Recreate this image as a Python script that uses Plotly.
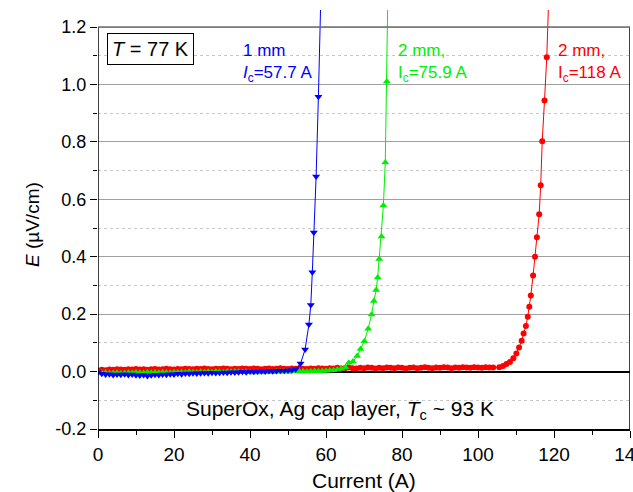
import plotly.graph_objects as go

# ---------------- data ----------------
blue_I = [0, 1, 2, 3, 4, 5, 6, 7, 8, 9, 10, 11, 12, 13, 14, 15, 16, 17, 18, 19,
          20, 21, 22, 23, 24, 25, 26, 27, 28, 29, 30, 31, 32, 33, 34, 35, 36, 37, 38, 39,
          40, 41, 42, 43, 44, 45, 46, 47, 48, 49, 50, 51, 52,
          53.3, 54.5, 55.5, 56.0, 56.4, 56.8, 57.4, 58.0, 59.0]
blue_E = [-0.002, -0.008, -0.010, -0.009, -0.012, -0.010, -0.011, -0.009, -0.012, -0.010,
          -0.013, -0.014, -0.012, -0.015, -0.013, -0.011, -0.012, -0.010, -0.011, -0.009,
          -0.010, -0.008, -0.009, -0.007, -0.008, -0.006, -0.007, -0.006, -0.005, -0.006,
          -0.004, -0.005, -0.004, -0.003, -0.004, -0.002, -0.003, -0.002, -0.001, -0.002,
          0.000, -0.001, 0.000, 0.001, 0.000, 0.002, 0.001, 0.002, 0.003, 0.003,
          0.004, 0.005, 0.008,
          0.028, 0.077, 0.164, 0.232, 0.346, 0.484, 0.679, 0.957, 1.5]

green_I = [0, 1, 2, 3, 4, 5, 6, 7, 8, 9, 10, 11, 12, 13, 14, 15, 16, 17, 18, 19,
           20, 21, 22, 23, 24, 25, 26, 27, 28, 29, 30, 31, 32, 33, 34, 35, 36, 37, 38, 39,
           40, 41, 42, 43, 44, 45, 46, 47, 48, 49, 50, 51, 52, 53, 54, 55, 56, 57, 58, 59,
           60, 61, 62, 63, 64,
           65.1, 66.0, 67.1, 68.2, 69.1, 70.1, 71.1, 72.0, 72.6, 73.2, 73.6, 74.0, 74.6,
           75.1, 75.6, 76.0, 76.5]
green_E = [-0.003, -0.005, -0.004, -0.006, -0.005, -0.004, -0.006, -0.005, -0.004, -0.005,
           -0.003, -0.004, -0.005, -0.003, -0.004, -0.003, -0.004, -0.002, -0.003, -0.004,
           -0.002, -0.003, -0.002, -0.003, -0.001, -0.002, -0.003, -0.001, -0.002, -0.001,
           -0.002, 0.000, -0.001, -0.002, 0.000, -0.001, 0.000, -0.001, -0.002, -0.001,
           -0.002, -0.003, -0.002, -0.003, -0.002, -0.001, -0.002, 0.000, -0.001, 0.000,
           -0.001, 0.000, 0.001, 0.000, 0.001, 0.000, 0.001, 0.002, 0.001, 0.002,
           0.003, 0.004, 0.005, 0.007, 0.010,
           0.015, 0.031, 0.035, 0.054, 0.079, 0.106, 0.149, 0.199, 0.246, 0.284, 0.328,
           0.392, 0.470, 0.578, 0.728, 1.010, 1.5]

red_I = [0, 1, 2, 3, 4, 5, 6, 7, 8, 9, 10, 11, 12, 13, 14, 15, 16, 17, 18, 19,
         20, 21, 22, 23, 24, 25, 26, 27, 28, 29, 30, 31, 32, 33, 34, 35, 36, 37, 38, 39,
         40, 41, 42, 43, 44, 45, 46, 47, 48, 49, 50, 51, 52, 53, 54, 55, 56, 57, 58, 59,
         60, 61, 62, 63, 64, 65, 66, 67, 68, 69, 70, 71, 72, 73, 74, 75, 76, 77, 78, 79,
         80, 81, 82, 83, 84, 85, 86, 87, 88, 89, 90, 91, 92, 93, 94, 95, 96, 97, 98, 99,
         100, 101, 102, 103, 104,
         105.6, 106.6, 107.5, 108.4, 109.3, 110.1, 110.8, 111.5, 112.0, 112.6, 113.1,
         113.5, 113.9, 114.5, 115.0, 115.5, 116.1, 116.5, 116.9, 117.5, 118.1, 119.1]
red_E = [0.004, 0.006, 0.005, 0.007, 0.006, 0.008, 0.007, 0.006, 0.008, 0.007,
         0.009, 0.007, 0.008, 0.006, 0.008, 0.009, 0.007, 0.008, 0.010, 0.008,
         0.007, 0.009, 0.008, 0.010, 0.009, 0.008, 0.010, 0.009, 0.011, 0.009,
         0.008, 0.010, 0.009, 0.011, 0.010, 0.008, 0.010, 0.009, 0.011, 0.010,
         0.009, 0.011, 0.010, 0.008, 0.010, 0.011, 0.009, 0.010, 0.012, 0.010,
         0.009, 0.011, 0.010, 0.012, 0.010, 0.009, 0.011, 0.010, 0.012, 0.011,
         0.010, 0.012, 0.011, 0.013, 0.011, 0.012, 0.014, 0.012, 0.011, 0.013,
         0.012, 0.014, 0.013, 0.011, 0.013, 0.012, 0.014, 0.013, 0.012, 0.014,
         0.013, 0.011, 0.013, 0.014, 0.012, 0.013, 0.015, 0.013, 0.012, 0.014,
         0.013, 0.015, 0.014, 0.012, 0.014, 0.013, 0.015, 0.014, 0.013, 0.015,
         0.014, 0.013, 0.015, 0.014, 0.014,
         0.015, 0.019, 0.026, 0.033, 0.046, 0.063, 0.084, 0.107, 0.133, 0.159, 0.191,
         0.226, 0.265, 0.335, 0.400, 0.468, 0.548, 0.649, 0.802, 0.944, 1.095, 1.5]

x_ticks = [0, 20, 40, 60, 80, 100, 120, 140]
y_ticks = [-0.2, 0.0, 0.2, 0.4, 0.6, 0.8, 1.0, 1.2]

FONT = "Arial, Liberation Sans, sans-serif"

fig = go.Figure()
fig.add_trace(go.Scatter(x=red_I, y=red_E, mode="lines+markers",
                         line=dict(color="#ff0000", width=1),
                         marker=dict(symbol="circle", size=6, color="#ff0000"),
                         showlegend=False, cliponaxis=True))
fig.add_trace(go.Scatter(x=green_I, y=green_E, mode="lines+markers",
                         line=dict(color="#00ee00", width=1),
                         marker=dict(symbol="triangle-up", size=7, color="#00ee00"),
                         showlegend=False, cliponaxis=True))
fig.add_trace(go.Scatter(x=blue_I, y=blue_E, mode="lines+markers",
                         line=dict(color="#0000ff", width=1),
                         marker=dict(symbol="triangle-down", size=7, color="#0000ff"),
                         showlegend=False, cliponaxis=True))

px_per_unit = 402 / 1.4
y_top = -0.2 + 419 / px_per_unit

fig.update_layout(
    width=633, height=492,
    margin=dict(l=98, r=3, t=10, b=63),
    paper_bgcolor="white", plot_bgcolor="white",
    font=dict(family=FONT, size=17, color="black"),
    xaxis=dict(range=[0, 140], tickvals=x_ticks, ticktext=[str(v) for v in x_ticks],
               ticks="outside", ticklen=7, tickwidth=1, tickcolor="black",
               showline=True, linecolor="black", linewidth=1.5, mirror=False,
               showgrid=False, zeroline=False, automargin=False,
               ticklabeloverflow="allow",
               minor=dict(tickvals=[10, 30, 50, 70, 90, 110, 130], ticks="outside",
                          ticklen=4, tickcolor="black", showgrid=False),
               tickfont=dict(size=19)),
    yaxis=dict(range=[-0.2, y_top], tickvals=y_ticks,
               ticktext=["-0.2", "0.0", "0.2", "0.4", "0.6", "0.8", "1.0", "1.2"],
               ticks="outside", ticklen=7, tickwidth=1, tickcolor="black",
               showline=False, showgrid=True, gridcolor="#a0a0a0", gridwidth=1,
               zeroline=True, zerolinecolor="black", zerolinewidth=1.5,
               automargin=False, ticklabeloverflow="allow",
               minor=dict(tickvals=[-0.1, 0.1, 0.3, 0.5, 0.7, 0.9, 1.1], ticks="outside",
                          ticklen=4, tickcolor="black", showgrid=True,
                          gridcolor="#c8c8c8", griddash="dot", gridwidth=1),
               tickfont=dict(size=18)),
    shapes=[
        dict(type="line", xref="x", yref="y", x0=0, x1=0, y0=-0.2, y1=1.2,
             line=dict(color="black", width=1.5)),
        dict(type="line", xref="x", yref="y", x0=140, x1=140, y0=-0.2, y1=1.2,
             line=dict(color="black", width=1.5)),
        dict(type="line", xref="x", yref="y", x0=0, x1=140, y0=1.2, y1=1.2,
             line=dict(color="#707070", width=1.5)),
    ],
    annotations=[
        dict(xref="x", yref="y", x=13.8, y=1.124, text="<i>T</i> = 77 K", showarrow=False,
             font=dict(size=20), bordercolor="black", borderwidth=1, borderpad=4,
             bgcolor="white", xanchor="center", yanchor="middle"),
        dict(xref="x", yref="y", x=37.6, y=1.074, text="1 mm<br><i>I</i><sub>c</sub>=57.7 A",
             showarrow=False, font=dict(size=17, color="#0000ff"), align="left",
             xanchor="left", yanchor="middle"),
        dict(xref="x", yref="y", x=78.3, y=1.074, text="2 mm,<br>I<sub>c</sub>=75.9 A",
             showarrow=False, font=dict(size=17, color="#00ee00"), align="left",
             xanchor="left", yanchor="middle"),
        dict(xref="x", yref="y", x=120.5, y=1.074, text="2 mm,<br>I<sub>c</sub>=118 A",
             showarrow=False, font=dict(size=17, color="#ff0000"), align="left",
             xanchor="left", yanchor="middle"),
        dict(xref="x", yref="y", x=63.7, y=-0.134,
             text="SuperOx, Ag cap layer, <i>T</i><sub>c</sub> ~ 93 K",
             showarrow=False, font=dict(size=21), xanchor="center", yanchor="middle"),
        dict(xref="paper", yref="paper", x=0.5, y=-0.124, text="Current (A)",
             showarrow=False, font=dict(size=21), xanchor="center", yanchor="middle"),
        dict(xref="paper", yref="paper", x=-0.122, y=0.487, text="<i>E</i> (µV/cm)",
             showarrow=False, font=dict(size=19), textangle=-90,
             xanchor="center", yanchor="middle"),
    ],
)

fig.write_html("out.html", config={"displayModeBar": False},
               post_script="document.body.style.margin='0px';document.body.style.overflow='hidden';")
